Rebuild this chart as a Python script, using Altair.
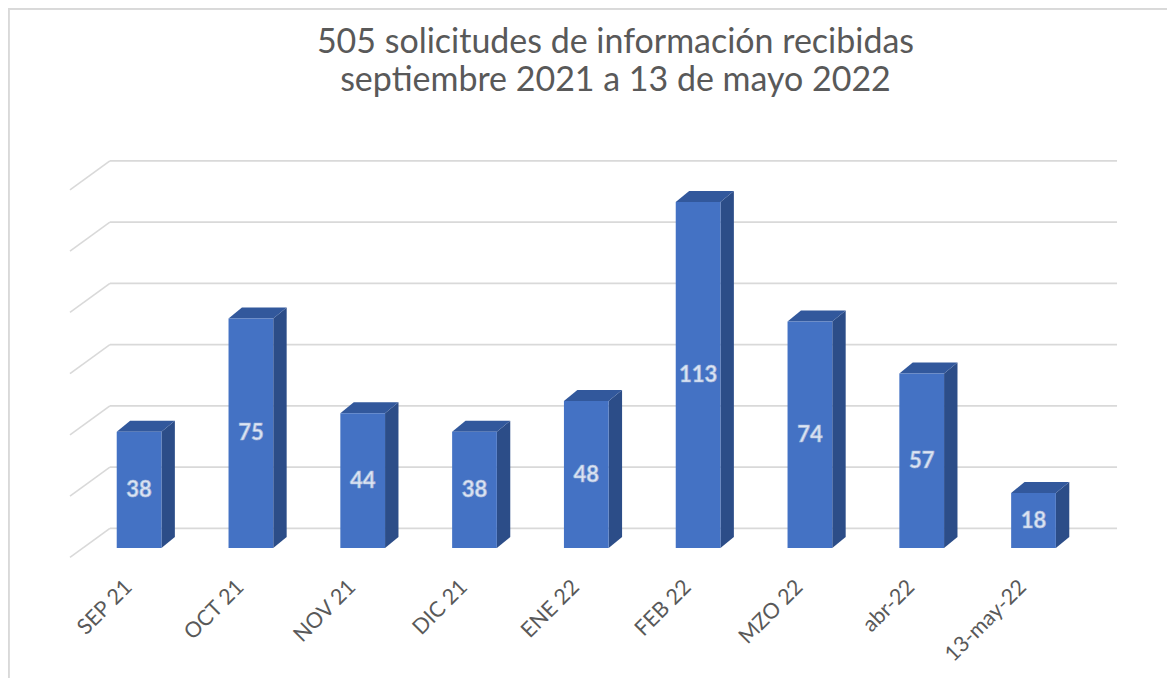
import altair as alt
import pandas as pd

# ---- data ----
categories = ["SEP 21", "OCT 21", "NOV 21", "DIC 21", "ENE 22",
              "FEB 22", "MZO 22", "abr-22", "13-may-22"]
values = [38, 75, 44, 38, 48, 113, 74, 57, 18]
gridline_values = [0, 20, 40, 60, 80, 100, 120]
title_lines = ["505 solicitudes de información recibidas",
               "septiembre 2021 a 13 de mayo 2022"]

# ---- pseudo-3D geometry (in data units) ----
HALF = 0.2          # half width of a column front face
DEPTH_X = 0.12      # column depth, horizontal
DEPTH_Y = 3.6       # column depth, vertical
FLOOR_FRONT_X = -0.618
WALL_X0 = -0.261
WALL_X1 = 8.747
WALL_DY = 6.44
FLOOR_FRONT_DY = -3.04
LABEL_DX = -0.09
LABEL_Y = -11.8

W, H = 1160, 670
XDOM = [-1.1725, 9.194]
YDOM = [-42.32, 176.28]

FRONT = "#4472C4"
SIDE = "#2C4D88"
TOP = "#32589C"
GRID = "#D9D9D9"
TEXT = "#595959"

idx = list(range(len(categories)))
bars = pd.DataFrame({
    "cat": categories,
    "val": values,
    "i": idx,
})
bars["x0"] = bars["i"] - HALF
bars["x1"] = bars["i"] + HALF
bars["mid"] = bars["val"] / 2
bars["lx"] = bars["i"] + LABEL_DX

side_rows, top_rows = [], []
for c, i, v in zip(categories, idx, values):
    side_rows += [
        {"cat": c, "x": i + HALF, "lo": 0, "hi": v},
        {"cat": c, "x": i + HALF + DEPTH_X, "lo": DEPTH_Y, "hi": v + DEPTH_Y},
    ]
    top_rows += [
        {"cat": c, "x": i - HALF, "lo": v, "hi": v},
        {"cat": c, "x": i - HALF + DEPTH_X, "lo": v, "hi": v + DEPTH_Y},
        {"cat": c, "x": i + HALF, "lo": v, "hi": v + DEPTH_Y},
        {"cat": c, "x": i + HALF + DEPTH_X, "lo": v + DEPTH_Y, "hi": v + DEPTH_Y},
    ]
side = pd.DataFrame(side_rows)
top = pd.DataFrame(top_rows)

grid = pd.DataFrame({"g": gridline_values})
grid["yb"] = grid["g"] + WALL_DY
grid["yf"] = grid["g"] + FLOOR_FRONT_DY
grid["xa"] = WALL_X0
grid["xb"] = WALL_X1
grid["xf"] = FLOOR_FRONT_X

xs = alt.Scale(domain=XDOM, nice=False, zero=False)
ys = alt.Scale(domain=YDOM, nice=False, zero=False)

back_lines = alt.Chart(grid).mark_rule(color=GRID, strokeWidth=1.6).encode(
    x=alt.X("xa:Q", scale=xs, axis=None), x2="xb:Q",
    y=alt.Y("yb:Q", scale=ys, axis=None),
)
diag_lines = alt.Chart(grid).mark_rule(color=GRID, strokeWidth=1.6).encode(
    x=alt.X("xf:Q", scale=xs, axis=None), x2="xa:Q",
    y=alt.Y("yf:Q", scale=ys, axis=None), y2="yb:Q",
)

side_faces = alt.Chart(side).mark_area(color=SIDE, opacity=1).encode(
    x=alt.X("x:Q", scale=xs, axis=None),
    y=alt.Y("lo:Q", scale=ys, axis=None), y2="hi:Q",
    detail="cat:N",
)
top_faces = alt.Chart(top).mark_area(color=TOP, opacity=1).encode(
    x=alt.X("x:Q", scale=xs, axis=None),
    y=alt.Y("lo:Q", scale=ys, axis=None), y2="hi:Q",
    detail="cat:N",
)
front_faces = alt.Chart(bars).mark_rect(color=FRONT).encode(
    x=alt.X("x0:Q", scale=xs, axis=None), x2="x1:Q",
    y=alt.Y("val:Q", scale=ys, axis=None), y2=alt.datum(0),
)
value_labels = alt.Chart(bars).mark_text(
    font="Lato", fontWeight="bold", fontSize=22, fill="#DDE6F5",
    stroke="#A7B8DA", strokeWidth=0.7, align="center", baseline="middle",
).encode(
    x=alt.X("i:Q", scale=xs, axis=None),
    y=alt.Y("mid:Q", scale=ys, axis=None),
    text="val:Q",
)
cat_labels = alt.Chart(bars).mark_text(
    font="Lato", fontSize=21.5, color=TEXT, angle=315,
    align="right", baseline="middle",
).encode(
    x=alt.X("lx:Q", scale=xs, axis=None),
    y=alt.datum(LABEL_Y),
    text="cat:N",
)
border_left = alt.Chart(bars).mark_rule(color=GRID, strokeWidth=1.5).encode(
    x=alt.value(0.5), y=alt.value(0), y2=alt.value(H),
)
border_top = alt.Chart(bars).mark_rule(color=GRID, strokeWidth=1.5).encode(
    x=alt.value(0), x2=alt.value(W + 20), y=alt.value(0.5),
)

chart = alt.layer(
    back_lines, diag_lines, side_faces, top_faces, front_faces,
    value_labels, cat_labels, border_left, border_top,
).properties(
    width=W, height=H,
    autosize=alt.AutoSizeParams(type="none"),
    padding=0,
    background="white",
    title=alt.TitleParams(
        text=title_lines, font="Lato", fontSize=34, fontWeight="normal",
        color=TEXT, anchor="middle", dx=28, dy=95, lineHeight=38,
    ),
).configure_view(strokeWidth=0)

chart.save("out.html", embed_options={"renderer": "svg", "actions": False})
